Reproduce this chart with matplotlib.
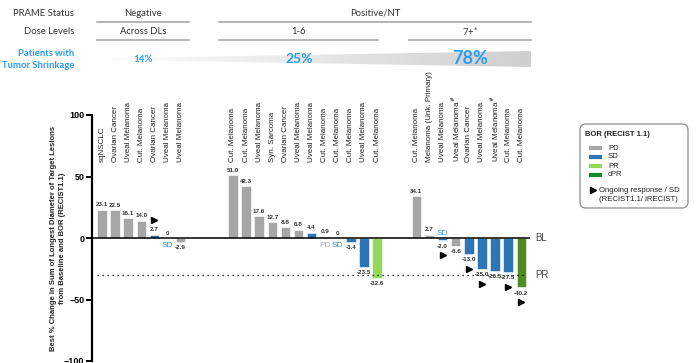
import numpy as np
import matplotlib.pyplot as plt
from matplotlib.patches import Polygon, FancyBboxPatch
from matplotlib.colors import LinearSegmentedColormap

# ---- data -------------------------------------------------------------
# PRAME negative, across dose levels
neg_tumor = ['sqNSCLC', 'Ovarian Cancer', 'Uveal Melanoma', 'Cut. Melanoma',
             'Ovarian Cancer', 'Uveal Melanoma', 'Uveal Melanoma']
neg_change = [23.1, 22.5, 16.1, 14.0, 2.7, 0, -2.9]
neg_bor = ['PD', 'PD', 'PD', 'PD', 'SD', 'SD', 'PD']
neg_ongoing = [0, 0, 0, 0, 1, 0, 0]
neg_note = ['', '', '', '', '', 'SD', '']

# PRAME positive/NT, DL 1-6
dl16_tumor = ['Cut. Melanoma', 'Cut. Melanoma', 'Uveal Melanoma', 'Syn. Sarcoma',
              'Ovarian Cancer', 'Uveal Melanoma', 'Uveal Melanoma', 'Cut. Melanoma',
              'Cut. Melanoma', 'Cut. Melanoma', 'Uveal Melanoma', 'Cut. Melanoma']
dl16_change = [51.0, 42.3, 17.6, 12.7, 8.8, 6.8, 4.4, 0.9, 0, -3.4, -23.5, -32.6]
dl16_bor = ['PD', 'PD', 'PD', 'PD', 'PD', 'PD', 'SD', 'PD', 'SD', 'SD', 'SD', 'PR']
dl16_ongoing = [0] * 12
dl16_note = ['', '', '', '', '', '', '', 'PD', 'SD', '', '', '']

# PRAME positive/NT, DL 7+
dl7_tumor = ['Cut. Melanoma', 'Melanoma (Unk. Primary)', 'Uveal Melanoma',
             'Uveal Melanoma$^{\\#}$', 'Ovarian Cancer', 'Uveal Melanoma',
             'Uveal Melanoma$^{\\#}$', 'Cut. Melanoma', 'Cut. Melanoma']
dl7_change = [34.1, 2.7, -2.0, -6.6, -13.0, -25.0, -26.5, -27.5, -40.2]
dl7_bor = ['PD', 'PD', 'SD', 'PD', 'SD', 'SD', 'SD', 'SD', 'cPR']
dl7_ongoing = [0, 0, 1, 0, 1, 1, 0, 1, 1]
dl7_note = ['', '', 'SD', '', '', '', '', '', '']

shrink_pct = ['14%', '25%', '78%']

bor_colors = {'PD': '#a6a6a6', 'SD': '#2e75b6', 'PR': '#92d95a', 'cPR': '#4f8a22'}
legend_colors = {'PD': '#a6a6a6', 'SD': '#2e75b6', 'PR': '#92d95a', 'cPR': '#138a2a'}
note_colors = {'PD': '#b0b0b0', 'SD': '#3d94d6'}

ARIAL = 'Liberation Sans'
CALIBRI = 'Lato'
BLUE_TXT = '#2a9df4'

W, H = 696, 363
fig = plt.figure(figsize=(W / 100, H / 100), dpi=100)

# main axes
ax = fig.add_axes([92 / W, 1 - 361 / H, (530 - 92) / W, (361 - 115) / H])

tumor = neg_tumor + dl16_tumor + dl7_tumor
change = neg_change + dl16_change + dl7_change
bor = neg_bor + dl16_bor + dl7_bor
ongoing = neg_ongoing + dl16_ongoing + dl7_ongoing
note = neg_note + dl16_note + dl7_note
xpos = np.concatenate([np.arange(len(neg_change)),
                       10 + np.arange(len(dl16_change)),
                       24 + np.arange(len(dl7_change))])

ax.bar(xpos, change, width=0.72, color=[bor_colors[b] for b in bor],
       edgecolor='white', linewidth=0.4, zorder=2)

for x, v, t, og, nt in zip(xpos, change, tumor, ongoing, note):
    lab = '0' if v == 0 else f'{v:.1f}'
    if v >= 0:
        ax.text(x, v + 2, lab, ha='center', va='bottom', fontsize=4.5,
                fontweight='bold', color='#333333', family=ARIAL)
    else:
        ax.text(x, v - 2.5, lab, ha='center', va='top', fontsize=4.5,
                fontweight='bold', color='#333333', family=ARIAL)
    ax.text(x, 62, t, rotation=90, ha='center', va='bottom', fontsize=5.8,
            color='#222222', family=ARIAL, clip_on=False)
    if og:
        ym = v + 12 if v > 0 else v - 12
        ax.plot(x, ym, marker='>', ms=5, color='black', zorder=3)
    if nt:
        ax.text(x, -6.5 if v >= 0 else 4, nt, ha='center', va='center',
                fontsize=6, color=note_colors[nt], family=ARIAL)

ax.axhline(0, color='black', lw=1.1, zorder=3)
ax.plot([-0.4, 32.45], [-30, -30], color='black', lw=0.9,
        linestyle=(0, (1, 3)))
ax.text(33.1, 0, 'BL', ha='left', va='center', fontsize=7, color='#444444',
        family=ARIAL, clip_on=False)
ax.text(33.1, -30, 'PR', ha='left', va='center', fontsize=7, color='#444444',
        family=ARIAL, clip_on=False)

ax.set_xlim(-0.76, 32.67)
ax.set_ylim(-100, 100)
ax.set_yticks([-100, -50, 0, 50, 100])
ax.set_xticks([])
for s in ['top', 'right', 'bottom']:
    ax.spines[s].set_visible(False)
ax.spines['left'].set_linewidth(1.6)
ax.tick_params(axis='y', length=4, width=1.4, pad=1.5, labelsize=6.5)
for tl in ax.get_yticklabels():
    tl.set_fontweight('bold')
    tl.set_family(ARIAL)
ax.patch.set_visible(False)

# overlay axes in pixel coords for header / legend
oax = fig.add_axes([0, 0, 1, 1], zorder=5)
oax.set_axis_off()

oax.text(58, 238, 'Best % Change in Sum of Longest Diameter of Target Lesions\n'
         'from Baseline and BOR (RECIST1.1)', rotation=90, ha='center',
         va='center', fontsize=5.5, fontweight='bold', family=ARIAL,
         linespacing=1.2, color='#222222')

# header rows
hdr = dict(fontsize=6.8, family=CALIBRI, color='#333333', va='center')
oax.text(74, 13, 'PRAME Status', ha='right', **hdr)
oax.text(74, 32, 'Dose Levels', ha='right', **hdr)
oax.text(143, 13, 'Negative', ha='center', **hdr)
oax.text(375, 13, 'Positive/NT', ha='center', **hdr)
oax.text(143, 32, 'Across DLs', ha='center', **hdr)
oax.text(299, 32, '1-6', ha='center', **hdr)
oax.text(470, 32, '7+$^{*}$', ha='center', **hdr)
for x0, x1, y in [(97, 189, 22), (219, 531, 22), (97, 189, 40),
                  (219, 378, 40), (409, 531, 40)]:
    oax.plot([x0, x1], [y, y], color='#a0a0a0', lw=1.1)

oax.text(74, 53, 'Patients with', ha='right', va='center', fontsize=6.8,
         fontweight='bold', family=CALIBRI, color=BLUE_TXT)
oax.text(74, 65, 'Tumor Shrinkage', ha='right', va='center', fontsize=6.8,
         fontweight='bold', family=CALIBRI, color=BLUE_TXT)

# gradient wedge
grad_cmap = LinearSegmentedColormap.from_list('g', ['#ffffff', '#cfcfcf'])
wedge = Polygon([[97, 58.5], [531, 51], [531, 67], [97, 59.5]], closed=True,
                facecolor='none', edgecolor='none')
oax.add_patch(wedge)
im = oax.imshow(np.linspace(0, 1, 256)[None, :], cmap=grad_cmap,
                extent=(97, 531, 67, 51), aspect='auto', zorder=1)
im.set_clip_path(wedge)

for x, s, fs in zip([143, 299, 470], shrink_pct, [7, 10, 13]):
    oax.text(x, 59, s, ha='center', va='center', fontsize=fs,
             fontweight='bold', family=CALIBRI, color=BLUE_TXT, zorder=2)

# legend
box = FancyBboxPatch((580, 124), 108, 84,
                     boxstyle='round,pad=0,rounding_size=6',
                     facecolor='white', edgecolor='#8c8c8c', lw=0.9)
oax.add_patch(box)
oax.text(585, 134, 'BOR (RECIST 1.1)', ha='left', va='center', fontsize=5.5,
         fontweight='bold', family=ARIAL, color='#222222')
for y, k in zip([148, 157, 166, 175], ['PD', 'SD', 'PR', 'cPR']):
    oax.plot([589, 602], [y, y], color=legend_colors[k], lw=3,
             solid_capstyle='butt')
    oax.text(608, y, k, ha='left', va='center', fontsize=5.6, family=ARIAL,
             color='#222222')
oax.plot(593, 190, marker='>', ms=5, color='black')
oax.text(599, 190, 'Ongoing response / SD', ha='left', va='center',
         fontsize=5.6, family=ARIAL, color='#222222')
oax.text(599, 199.5, '(RECIST1.1/ iRECIST)', ha='left', va='center',
         fontsize=5.6, family=ARIAL, color='#222222')

oax.set_xlim(0, W)
oax.set_ylim(H, 0)

fig.savefig('out.png', dpi=100)
